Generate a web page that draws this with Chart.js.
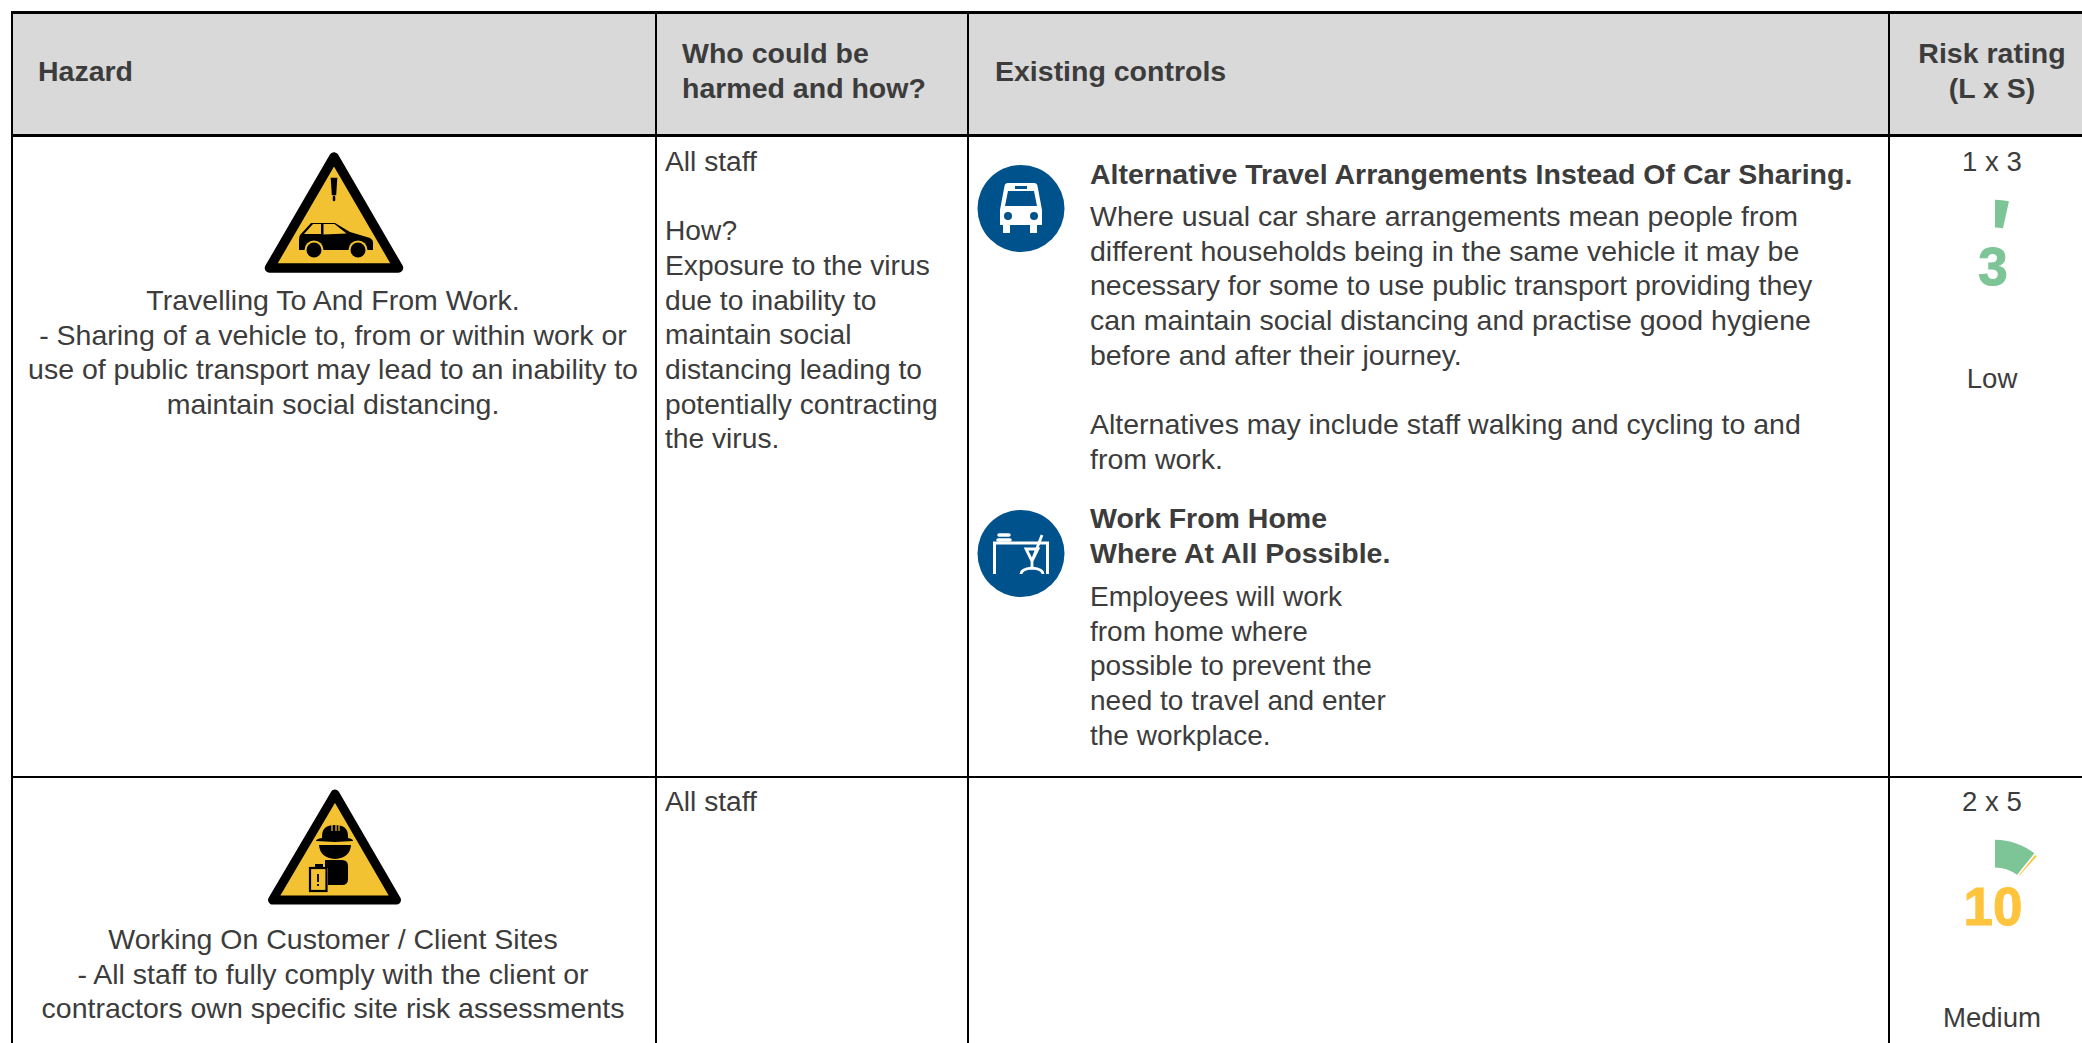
<!DOCTYPE html>
<html>
<head>
<meta charset="utf-8">
<title>Risk assessment</title>
<script src="https://cdn.jsdelivr.net/npm/chart.js@4"></script>
<style>
html, body { margin: 0; padding: 0; background: #fff; }
body { width: 2082px; height: 1043px; overflow: hidden; position: relative;
  font-family: "Liberation Sans", Arial, sans-serif; font-size: 28.5px; line-height: 34.67px; color: #3c3c3c; }
.box { position: absolute; }
.txt { position: absolute; white-space: nowrap; }
.b { font-weight: bold; }
.c { text-align: center; transform: translateX(-50%); }
.who { font-size: 28.2px; }
.risk { font-size: 27.6px; }
.score { font-size: 53px; line-height: 46px; -webkit-text-stroke: 1px currentColor; }
canvas { position: absolute; }
svg { position: absolute; left: 0; top: 0; }
</style>
</head>
<body>
<!-- table background and rules -->
<div class="box" style="left:12px;top:11px;width:2070px;height:125px;background:#d9d9d9"></div>
<div class="box" style="left:11px;top:11px;width:2071px;height:3px;background:#000"></div>
<div class="box" style="left:11px;top:134px;width:2071px;height:3px;background:#000"></div>
<div class="box" style="left:11px;top:776px;width:2071px;height:2px;background:#000"></div>
<div class="box" style="left:11px;top:11px;width:2px;height:1032px;background:#000"></div>
<div class="box" style="left:655px;top:11px;width:2px;height:1032px;background:#000"></div>
<div class="box" style="left:967px;top:11px;width:2px;height:1032px;background:#000"></div>
<div class="box" style="left:1888px;top:11px;width:2px;height:1032px;background:#000"></div>

<!-- header -->
<div class="txt b" style="left:38px;top:54px">Hazard</div>
<div class="txt b" style="left:682px;top:36px">Who could be<br>harmed and how?</div>
<div class="txt b" style="left:995px;top:54px">Existing controls</div>
<div class="txt b c" style="left:1992px;top:36px">Risk rating<br>(L x S)</div>

<!-- row 1 -->
<div class="txt c" style="left:333px;top:283px">Travelling To And From Work.<br>- Sharing of a vehicle to, from or within work or<br>use of public transport may lead to an inability to<br>maintain social distancing.</div>
<div class="txt who" style="left:665px;top:144px">All staff<br><br>How?<br>Exposure to the virus<br>due to inability to<br>maintain social<br>distancing leading to<br>potentially contracting<br>the virus.</div>
<div class="txt b" style="left:1090px;top:157px">Alternative Travel Arrangements Instead Of Car Sharing.</div>
<div class="txt" style="left:1090px;top:199px">Where usual car share arrangements mean people from<br>different households being in the same vehicle it may be<br>necessary for some to use public transport providing they<br>can maintain social distancing and practise good hygiene<br>before and after their journey.<br><br>Alternatives may include staff walking and cycling to and<br>from work.</div>
<div class="txt b" style="left:1090px;top:501px">Work From Home<br>Where At All Possible.</div>
<div class="txt" style="left:1090px;top:580px;font-size:28px">Employees will work<br>from home where<br>possible to prevent the<br>need to travel and enter<br>the workplace.</div>
<div class="txt c risk" style="left:1992px;top:145px">1 x 3</div>
<div class="txt c risk" style="left:1992px;top:362px">Low</div>
<div class="txt b c score" id="score0" style="left:1993px;top:244px;color:#7dc497"></div>

<!-- row 2 -->
<div class="txt c" style="left:333px;top:922px">Working On Customer / Client Sites<br>- All staff to fully comply with the client or<br>contractors own specific site risk assessments</div>
<div class="txt who" style="left:665px;top:784px">All staff</div>
<div class="txt c risk" style="left:1992px;top:785px">2 x 5</div>
<div class="txt c risk" style="left:1992px;top:1001px">Medium</div>
<div class="txt b c score" id="score1" style="left:1993px;top:884px;color:#ffc43d"></div>

<!-- icons -->
<svg width="2082" height="1043">
  <!-- car sign -->
  <path d="M334 157 L269.500 268 L398.500 268 Z" fill="#f2c232" stroke="#000" stroke-width="9.500" stroke-linejoin="round"/>
  <path d="M332 179 h4 l-1 15 h-2 z M334 197 v3" fill="#000" stroke="#000" stroke-width="2.500" stroke-linecap="round"/>
  <path d="M299 250 v-10 q0 -3 1 -5 l11 -12 h24 l15 9 l20 6 q3 2 3 4 v8 z" fill="#000"/>
  <path d="M304 234 l9 -10 h8 v10 z M323.500 224 h11 l12 9.500 l-23 1 z" fill="#f2c232"/>
  <circle cx="314" cy="250" r="9.500" fill="#f2c232"/><circle cx="358" cy="250" r="9.500" fill="#f2c232"/>
  <circle cx="314" cy="250" r="7.500" fill="#000"/><circle cx="358" cy="250" r="7.500" fill="#000"/>
  <!-- worker sign -->
  <path d="M335 794 L272.500 900 L396.500 900 Z" fill="#f2c232" stroke="#000" stroke-width="9" stroke-linejoin="round"/>
  <path d="M322 838 v-2 q0 -11 13 -11 t13 11 v2 q5 1 5 3 l-18 1 l-19 -1 q0 -2 6 -3 z" fill="#000"/>
  <path d="M332 825 v6 M336 825 v6 M339 825 v6" stroke="#f2c232" stroke-width="1.200"/>
  <path d="M319 845 h32 q-1 13 -16 14 q-15 -1 -16 -14 z" fill="#000"/>
  <path d="M325 860 h17 q6 0 6 6 v13 q0 6 -6 6 h-14 v-17 h-3 z" fill="#000"/>
  <rect x="310" y="868" width="16.500" height="23" fill="#f2c232" stroke="#000" stroke-width="2.200"/>
  <rect x="315" y="864" width="8" height="5" fill="#000"/>
  <path d="M318 874 v8 M318 884 v2" stroke="#000" stroke-width="1.800" fill="none"/>
  <!-- bus -->
  <circle cx="1021" cy="208.500" r="43.500" fill="#00528c"/>
  <path d="M1008 183 h26 q3 0 3.500 3 l4.500 24 v15 h-5 v8 h-7 v-8 h-20 v8 h-7 v-8 h-3 v-15 l4.500 -24 q0.500 -3 3.500 -3 z" fill="#fff"/>
  <path d="M1008 191 h26 l3 15 h-32 z" fill="#00528c"/>
  <rect x="1015" y="186" width="12" height="3" fill="#00528c"/>
  <circle cx="1008" cy="216" r="4" fill="#00528c"/><circle cx="1034" cy="216" r="4" fill="#00528c"/>
  <!-- desk -->
  <circle cx="1021" cy="553.500" r="43.500" fill="#00528c"/>
  <g stroke="#fff" stroke-width="3" fill="none">
    <path d="M994.500 574 v-31 h53 v31"/>
    <path d="M999 535 h10 M998 540 h12" stroke-width="3.500" stroke-linecap="round"/>
    <path d="M1042 535 l-10 26 M1026 549 h12 l-6 12 z M1032 561 v7 M1021 574 q0 -5 11 -6 q11 1 11 6" stroke-width="2.800"/>
  </g>
</svg>

<canvas id="gauge0" width="130" height="130" style="left:1930px;top:199px"></canvas>
<canvas id="gauge1" width="130" height="130" style="left:1930px;top:839px"></canvas>

<script>
// risk ratings
var ratings = ["Low", "Medium"];
var scores = [3, 10];
var bandLabels = ["Low", "Medium", "Rest"];
var lowPart = [3, 9.2];
var mediumPart = [0, 0.8];
var restPart = [83, 76];

function buildGauge(i) {
    var ctx = document.getElementById("gauge" + i).getContext("2d");
    document.getElementById("score" + i).textContent = scores[i];
    return new Chart(ctx, {
        type: "doughnut",
        data: {
            labels: bandLabels,
            datasets: [{
                data: [lowPart[i], mediumPart[i], restPart[i]],
                backgroundColor: ["#7dc497", "#ffc43d", "rgba(0,0,0,0)"],
                borderColor: "#fff",
                borderWidth: [0, 1.6, 0]
            }]
        },
        options: {
            responsive: false,
            animation: false,
            cutout: "57%",
            plugins: { legend: { display: false }, tooltip: { enabled: false } }
        }
    });
}

buildGauge(0);
buildGauge(1);
</script>
</body>
</html>
